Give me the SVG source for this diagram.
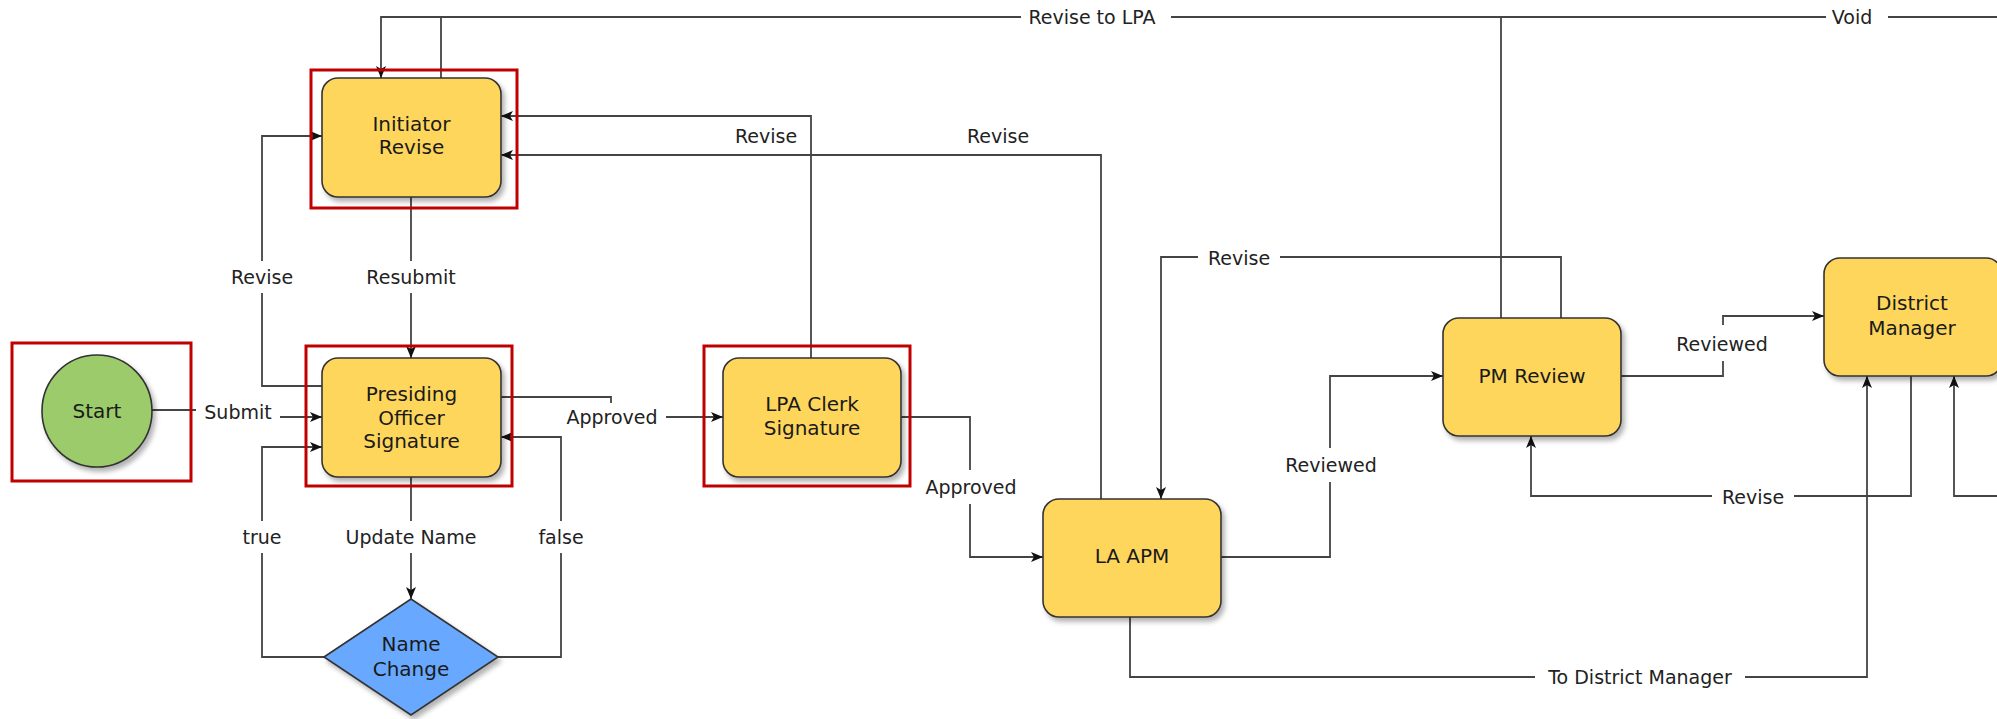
<svg xmlns="http://www.w3.org/2000/svg" width="1997" height="719" viewBox="0 0 1997 719">
<style>
.node{fill:#FFD65C;stroke:#333;stroke-width:1.6;filter:url(#sh)}
.sel{fill:none;stroke:#C00000;stroke-width:3}
.nt{font-family:"DejaVu Sans","Open Sans",sans-serif;font-size:20px;fill:#1a1a1a;text-anchor:middle}
.lt{font-family:"DejaVu Sans","Open Sans",sans-serif;font-size:19px;fill:#222;text-anchor:middle}
.cn path{fill:none;stroke:#444;stroke-width:1.8}
.cn path.a{marker-end:url(#ar)}
.bg{fill:#fff}
</style>
<defs>
<filter id="sh" x="-20%" y="-20%" width="150%" height="150%">
<feDropShadow dx="3" dy="4" stdDeviation="2.5" flood-color="#000" flood-opacity="0.3"/>
</filter>
<marker id="ar" markerUnits="userSpaceOnUse" markerWidth="12" markerHeight="10" refX="12" refY="5" orient="auto">
<path d="M0,0 L12,5 L0,10 L3,5 z" fill="#111"/>
</marker>
</defs>
<rect width="1997" height="719" fill="#fff"/>
<g id="connectors" class="cn">
<path class="a" d="M152,410 H238 V417 H322"/>
<path class="a" d="M411,197 V358"/>
<path class="a" d="M322,386 H262 V136 H322"/>
<path class="a" d="M411,477 V599"/>
<path class="a" d="M324,657 H262 V447 H322"/>
<path class="a" d="M498,657 H561 V437 H501"/>
<path class="a" d="M501,397 H611 V417 H723"/>
<path class="a" d="M811,358 V116 H501"/>
<path class="a" d="M901,417 H970 V557 H1043"/>
<path class="a" d="M1101,499 V155 H501"/>
<path class="a" d="M1221,557 H1330 V376 H1443"/>
<path class="a" d="M1561,318 V257 H1161 V499"/>
<path class="a" d="M1501,318 V17 H381 V78"/>
<path d="M441,78 V17 H1997"/>
<path class="a" d="M1621,376 H1723 V316 H1824"/>
<path class="a" d="M1911,376 V496 H1531 V436"/>
<path class="a" d="M1130,617 V677 H1867 V376"/>
<path class="a" d="M1997,496 H1954 V376"/>
</g>
<g id="labels">
<rect class="bg" x="196" y="398" width="84" height="28"/><text class="lt" x="238" y="419">Submit</text>
<rect class="bg" x="358" y="261" width="106" height="32"/><text class="lt" x="411" y="284">Resubmit</text>
<rect class="bg" x="226" y="261" width="72" height="32"/><text class="lt" x="262" y="284">Revise</text>
<rect class="bg" x="338" y="521" width="146" height="32"/><text class="lt" x="411" y="544">Update Name</text>
<rect class="bg" x="238" y="521" width="48" height="32"/><text class="lt" x="262" y="544">true</text>
<rect class="bg" x="535" y="521" width="52" height="32"/><text class="lt" x="561" y="544">false</text>
<rect class="bg" x="558" y="403" width="108" height="28"/><text class="lt" x="612" y="424">Approved</text>
<text class="lt" x="766" y="143">Revise</text>
<text class="lt" x="998" y="143">Revise</text>
<rect class="bg" x="921" y="470" width="100" height="34"/><text class="lt" x="971" y="494">Approved</text>
<rect class="bg" x="1282" y="448" width="98" height="34"/><text class="lt" x="1331" y="472">Reviewed</text>
<rect class="bg" x="1198" y="244" width="82" height="28"/><text class="lt" x="1239" y="265">Revise</text>
<rect class="bg" x="1021" y="3" width="150" height="28"/><text class="lt" x="1092" y="24">Revise to LPA</text>
<rect class="bg" x="1826" y="3" width="62" height="28"/><text class="lt" x="1852" y="24">Void</text>
<rect class="bg" x="1673" y="325" width="98" height="36"/><text class="lt" x="1722" y="351">Reviewed</text>
<rect class="bg" x="1712" y="483" width="82" height="28"/><text class="lt" x="1753" y="504">Revise</text>
<rect class="bg" x="1535" y="663" width="210" height="28"/><text class="lt" x="1640" y="684">To District Manager</text>
</g>
<g id="start">
<ellipse cx="97" cy="411" rx="55" ry="56" fill="#9BCB6B" stroke="#333" stroke-width="1.6" filter="url(#sh)"/>
<text class="nt" x="97" y="418">Start</text>
<rect class="sel" x="12" y="343" width="179" height="138"/>
</g>
<g id="initiator-revise">
<rect class="node" x="322" y="78" width="179" height="119" rx="16"/>
<text class="nt" x="411.5" y="130.5">Initiator<tspan x="411.5" dy="23.5">Revise</tspan></text>
<rect class="sel" x="311" y="70" width="206" height="138"/>
</g>
<g id="presiding-officer-signature">
<rect class="node" x="322" y="358" width="179" height="119" rx="16"/>
<text class="nt" x="411.5" y="401">Presiding<tspan x="411.5" dy="23.5">Officer</tspan><tspan x="411.5" dy="23.5">Signature</tspan></text>
<rect class="sel" x="306" y="346" width="206" height="140"/>
</g>
<g id="name-change">
<polygon points="324,657 411,599 498,657 411,715" fill="#68A9FF" stroke="#333" stroke-width="1.6" filter="url(#sh)"/>
<text class="nt" x="411" y="651">Name<tspan x="411" dy="25">Change</tspan></text>
</g>
<g id="lpa-clerk-signature">
<rect class="node" x="723" y="358" width="178" height="119" rx="16"/>
<text class="nt" x="812" y="411">LPA Clerk<tspan x="812" dy="24">Signature</tspan></text>
<rect class="sel" x="704" y="346" width="206" height="140"/>
</g>
<g id="la-apm">
<rect class="node" x="1043" y="499" width="178" height="118" rx="16"/>
<text class="nt" x="1132" y="563">LA APM</text>
</g>
<g id="pm-review">
<rect class="node" x="1443" y="318" width="178" height="118" rx="16"/>
<text class="nt" x="1532" y="383">PM Review</text>
</g>
<g id="district-manager">
<rect class="node" x="1824" y="258" width="178" height="118" rx="16"/>
<text class="nt" x="1912" y="310">District<tspan x="1912" dy="25">Manager</tspan></text>
</g>
</svg>
